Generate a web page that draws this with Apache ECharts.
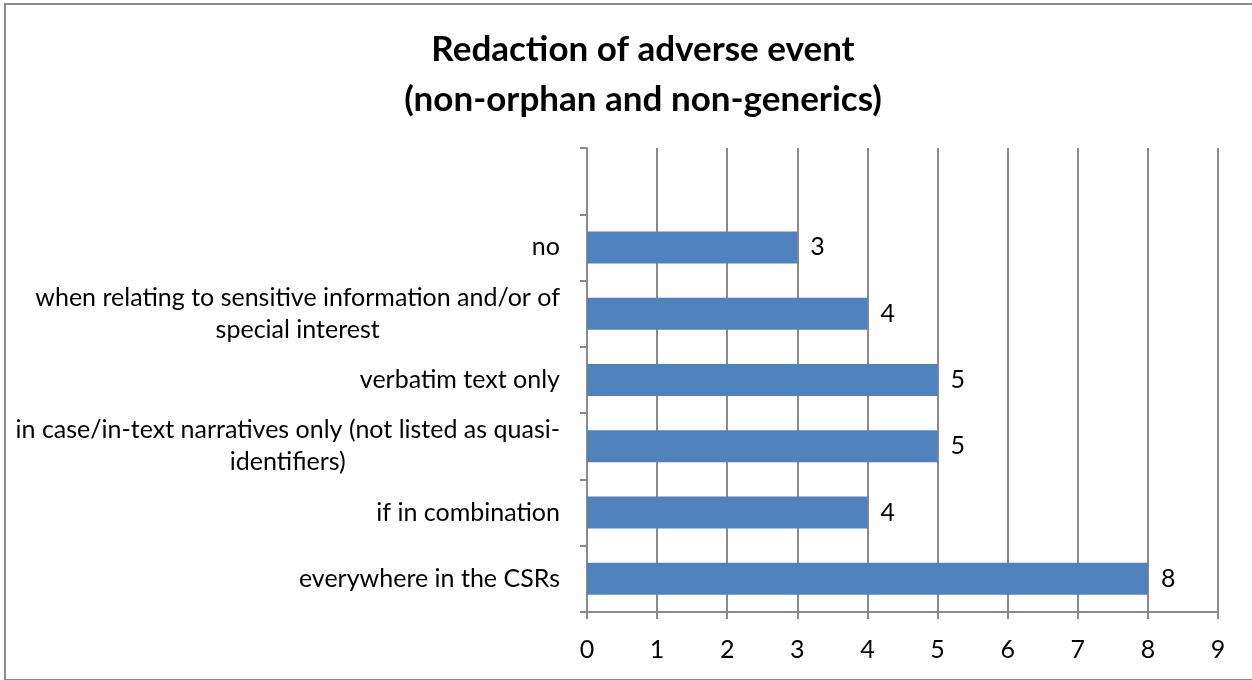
<!DOCTYPE html>
<html>
<head>
<meta charset="utf-8">
<script src="https://cdn.jsdelivr.net/npm/echarts@6/dist/echarts.min.js"></script>
<style>
html, body { margin: 0; padding: 0; background: #fff; }
#chart { position: absolute; left: 0; top: 0; width: 1252px; height: 680px; }
#frame { position: absolute; left: 4px; top: 3px; width: 1300px; height: 678px; border: 2px solid #8c8c8c; box-sizing: border-box; pointer-events: none; }
</style>
</head>
<body>
<div id="chart"></div>
<div id="frame"></div>
<script>
// categories bottom -> top (top slot is empty in the original)
var categories = [
    'everywhere in the CSRs',
    'if in combination',
    'in case/in-text narratives only (not listed as quasi-identifiers)',
    'verbatim text only',
    'when relating to sensitive information and/or of special interest',
    'no',
    ''
];
var counts = [8, 4, 5, 5, 4, 3, null];
var xTicks = [0, 1, 2, 3, 4, 5, 6, 7, 8, 9];

var FONT = 'Lato';
var LABEL_SIZE = 25;
var MAX_W = 545;
var GRAY = '#8a8a8a';

var measureCtx = document.createElement('canvas').getContext('2d');
function textWidth(s) {
    measureCtx.font = LABEL_SIZE + 'px ' + FONT;
    return measureCtx.measureText(s).width;
}

// wrap long labels the way excel does (at spaces and after hyphens)
function wrapLabel(text) {
    if (!text) return '';
    var parts = text.split(/(?<= )|(?<=-)/);
    var lines = [], line = '';
    parts.forEach(function (p) {
        if (line && textWidth((line + p).trim()) > MAX_W) {
            lines.push(line.trim());
            line = p;
        } else {
            line += p;
        }
    });
    lines.push(line.trim());
    return lines.map(function (l) { return '{c|' + l + '}'; }).join('\n');
}

var chart = echarts.init(document.getElementById('chart'));
var option = {
    animation: false,
    backgroundColor: '#fff',
    title: {
        text: 'Redaction of adverse event\n(non-orphan and non-generics)',
        left: 638,
        top: 20,
        textAlign: 'center',
        textStyle: {
            fontFamily: FONT,
            fontWeight: 'bold',
            fontSize: 35,
            lineHeight: 50,
            color: '#000'
        }
    },
    grid: {
        left: 587,
        right: 34,
        top: 148,
        bottom: 68,
        outerBoundsMode: 'none'
    },
    xAxis: {
        type: 'value',
        min: xTicks[0],
        max: xTicks[xTicks.length - 1],
        interval: 1,
        axisLine: { show: true, lineStyle: { color: GRAY, width: 2 } },
        axisTick: { show: true, length: 7, lineStyle: { color: GRAY, width: 2 } },
        splitLine: { show: true, lineStyle: { color: GRAY, width: 2 } },
        axisLabel: {
            margin: 25,
            fontFamily: FONT,
            fontSize: LABEL_SIZE,
            color: '#000'
        }
    },
    yAxis: {
        type: 'category',
        data: categories,
        axisLine: { show: true, lineStyle: { color: GRAY, width: 2 } },
        axisTick: { show: true, length: 7, lineStyle: { color: GRAY, width: 2 } },
        splitLine: { show: false },
        axisLabel: {
            margin: 27,
            align: 'right',
            formatter: wrapLabel,
            rich: {
                c: {
                    align: 'center',
                    fontFamily: FONT,
                    fontSize: LABEL_SIZE,
                    lineHeight: 32,
                    color: '#000'
                }
            }
        }
    },
    series: [{
        type: 'bar',
        data: counts,
        barWidth: 32,
        itemStyle: { color: '#4f81bd' },
        label: {
            show: true,
            position: 'right',
            distance: 13,
            fontFamily: FONT,
            fontSize: LABEL_SIZE,
            color: '#000'
        }
    }]
};
chart.setOption(option);
</script>
</body>
</html>
